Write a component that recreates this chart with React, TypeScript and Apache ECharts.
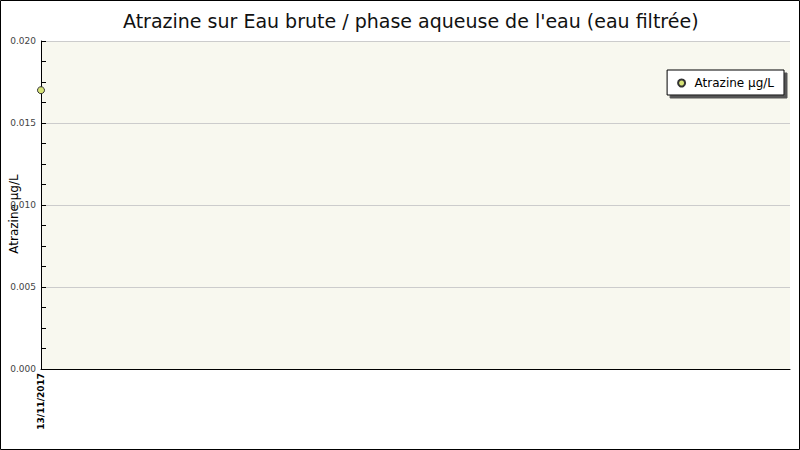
import React, { useEffect, useRef } from 'react';
import * as echarts from 'echarts';

// chart data
const categories: string[] = ['13/11/2017', ''];
const atrazine: (number | null)[] = [0.017, null];
const yTicks: number[] = [0, 0.005, 0.01, 0.015, 0.02];

const App: React.FC = () => {
  const chartRef = useRef<HTMLDivElement>(null);

  useEffect(() => {
    if (!chartRef.current) return () => {};
    const chart = echarts.init(chartRef.current, undefined, { renderer: 'svg' });

    const option = {
      animation: false,
      backgroundColor: '#ffffff',
      title: {
        text: "Atrazine sur Eau brute / phase aqueuse de l'eau (eau filtrée)",
        left: 118,
        top: 6,
        textStyle: { fontFamily: 'DejaVu Sans', fontSize: 19, fontWeight: 'normal', color: '#111' },
      },
      legend: {
        top: 70,
        right: 16,
        icon: 'circle',
        itemWidth: 16,
        itemHeight: 7,
        itemGap: 6,
        padding: [7, 10, 6, 10],
        backgroundColor: '#ffffff',
        borderColor: '#000',
        borderWidth: 1,
        borderRadius: 0,
        shadowColor: '#555',
        shadowBlur: 0,
        shadowOffsetX: 3,
        shadowOffsetY: 3,
        textStyle: { fontFamily: 'DejaVu Sans', fontSize: 12, color: '#000' },
      },
      grid: {
        left: 41,
        top: 41,
        right: 10,
        bottom: 81,
        outerBoundsMode: 'none',
        containLabel: false,
        show: true,
        backgroundColor: '#f8f8ef',
        borderWidth: 0,
      },
      xAxis: {
        type: 'category',
        data: categories,
        boundaryGap: false,
        axisLine: { lineStyle: { color: '#000', width: 1 } },
        axisTick: { show: false },
        axisLabel: {
          rotate: 90,
          margin: 4,
          interval: 0,
          fontFamily: 'DejaVu Sans',
          fontSize: 9,
          fontWeight: 'bold',
          color: '#000',
        },
        splitLine: { show: false },
      },
      yAxis: {
        type: 'value',
        min: yTicks[0],
        max: yTicks[yTicks.length - 1],
        interval: yTicks[1] - yTicks[0],
        name: 'Atrazine µg/L',
        nameLocation: 'middle',
        nameRotate: 90,
        nameGap: 21,
        nameMoveOverlap: false,
        nameTextStyle: { fontFamily: 'DejaVu Sans', fontSize: 12, color: '#000', padding: [0, 18, 0, 0] },
        axisLine: { show: true, lineStyle: { color: '#000', width: 1 } },
        axisTick: { show: true, inside: true, length: 5, lineStyle: { color: '#000' } },
        minorTick: { show: true, splitNumber: 4, length: 5, lineStyle: { color: '#000' } },
        axisLabel: {
          margin: 5,
          fontFamily: 'DejaVu Sans',
          fontSize: 9,
          color: '#444',
          formatter: (v: number) => v.toFixed(3),
        },
        splitLine: { show: true, lineStyle: { color: '#cccccc', width: 1 } },
      },
      series: [
        {
          name: 'Atrazine µg/L',
          type: 'line',
          data: atrazine,
          symbol: 'circle',
          symbolSize: 7,
          showSymbol: true,
          lineStyle: { width: 0 },
          itemStyle: { color: '#d7e377', borderColor: '#333', borderWidth: 1 },
        },
      ],
      graphic: [
        {
          type: 'rect',
          shape: { x: 0.5, y: 0.5, width: 799, height: 449 },
          style: { fill: 'none', stroke: '#000', lineWidth: 1 },
          silent: true,
        },
      ],
    };

    chart.setOption(option);
    return () => {
      chart.dispose();
    };
  }, []);

  return (
    <div
      ref={chartRef}
      style={{ position: 'absolute', left: 0, top: 0, width: 800, height: 450 }}
    ></div>
  );
};

export default App;
